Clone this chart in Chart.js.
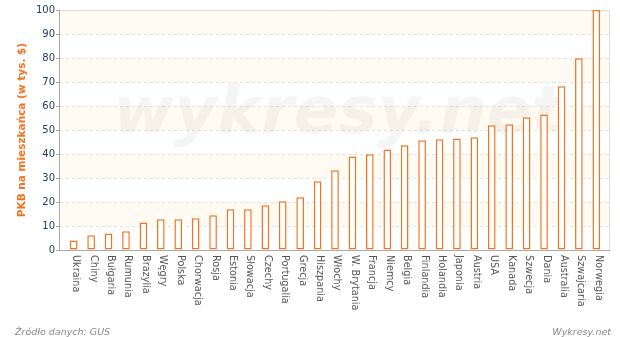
<!DOCTYPE html>
<html>
<head>
<meta charset="utf-8">
<script src="https://cdn.jsdelivr.net/npm/chart.js@4"></script>
<style>
  body { margin: 0; background: #fff; }
  #wrap { position: relative; width: 620px; height: 337px; }
  .note { position: absolute; font: italic 9.5px "DejaVu Sans", sans-serif; color: #888; }
</style>
</head>
<body>
<div id="wrap">
  <canvas id="gdp" width="620" height="337"></canvas>
  <div class="note" style="left:15px; top:326px;">Źródło danych: GUS</div>
  <div class="note" style="right:9px; top:326px;">Wykresy.net</div>
</div>
<script>
const countries = ['Ukraina', 'Chiny', 'Bułgaria', 'Rumunia', 'Brazylia', 'Węgry', 'Polska', 'Chorwacja', 'Rosja',
  'Estonia', 'Słowacja', 'Czechy', 'Portugalia', 'Grecja', 'Hiszpania', 'Włochy', 'W. Brytania', 'Francja',
  'Niemcy', 'Belgia', 'Finlandia', 'Holandia', 'Japonia', 'Austria', 'USA', 'Kanada', 'Szwecja', 'Dania',
  'Australia', 'Szwajcaria', 'Norwegia'];
const gdp = [4.0, 6.1, 6.9, 7.8, 11.5, 12.8, 12.8, 13.2, 14.5, 17.0, 17.0, 18.6, 20.3, 22.0, 28.6, 33.2,
  39.0, 39.9, 41.9, 43.6, 45.7, 46.1, 46.5, 47.0, 52.0, 52.4, 55.3, 56.5, 68.2, 79.9, 100];
const yTicks = [0, 10, 20, 30, 40, 50, 60, 70, 80, 90, 100];

const orange = '#f47321';
const side = 5; // frame extends this far past the category scale

// bands, dashed grid, frame, y axis line and watermark
const backdrop = {
  id: 'backdrop',
  beforeDatasetsDraw(chart) {
    const { ctx, chartArea: a, scales: { y } } = chart;
    const L = a.left - side, R = a.right + side;
    ctx.save();
    for (let i = 0; i < yTicks.length - 1; i++) {
      if ((yTicks.length - 2 - i) % 2 === 0) {
        const top = y.getPixelForValue(yTicks[i + 1]);
        const bot = y.getPixelForValue(yTicks[i]);
        ctx.fillStyle = '#fffbf3';
        ctx.fillRect(L, top, R - L, bot - top);
      }
    }
    ctx.strokeStyle = '#e2e2e2';
    ctx.lineWidth = 1;
    ctx.setLineDash([3, 3]);
    yTicks.slice(1, -1).forEach(v => {
      const py = Math.round(y.getPixelForValue(v)) + 0.5;
      ctx.beginPath();
      ctx.moveTo(L, py);
      ctx.lineTo(R, py);
      ctx.stroke();
    });
    ctx.setLineDash([]);
    ctx.strokeStyle = '#dddddd';
    ctx.beginPath();
    ctx.moveTo(L, a.top + 0.5);
    ctx.lineTo(R - 0.5, a.top + 0.5);
    ctx.lineTo(R - 0.5, a.bottom);
    ctx.stroke();
    ctx.strokeStyle = '#aaaaaa';
    ctx.beginPath();
    ctx.moveTo(L - 0.5, a.top);
    ctx.lineTo(L - 0.5, a.bottom + 0.5);
    ctx.lineTo(R, a.bottom + 0.5);
    yTicks.forEach(v => {
      const py = Math.round(y.getPixelForValue(v)) + 0.5;
      ctx.moveTo(L - 4, py);
      ctx.lineTo(L, py);
    });
    ctx.stroke();
    ctx.font = 'italic bold 66px "DejaVu Sans", sans-serif';
    ctx.fillStyle = 'rgba(0,0,0,0.04)';
    ctx.textAlign = 'center';
    ctx.fillText('wykresy.net', (L + R) / 2 + 3, 133);
    ctx.restore();
  },
  afterDraw(chart) {
    const { ctx, chartArea: a, scales: { x } } = chart;
    ctx.save();
    ctx.font = '9.7px "DejaVu Sans", sans-serif';
    ctx.fillStyle = '#555555';
    ctx.textAlign = 'left';
    ctx.textBaseline = 'middle';
    countries.forEach((c, i) => {
      ctx.save();
      ctx.translate(x.getPixelForValue(i) + 2, a.bottom + 5);
      ctx.rotate(Math.PI / 2);
      ctx.fillText(c, 0, 0);
      ctx.restore();
    });
    ctx.restore();
  }
};

new Chart(document.getElementById('gdp'), {
  type: 'bar',
  data: {
    labels: countries,
    datasets: [{
      data: gdp,
      backgroundColor: '#ffffff',
      borderColor: orange,
      borderWidth: 1.5,
      borderSkipped: false,
      categoryPercentage: 1,
      barPercentage: 0.44
    }]
  },
  options: {
    responsive: false,
    animation: false,
    layout: { padding: { top: 0, right: 10 + side, left: 0, bottom: 0 } },
    plugins: { legend: { display: false }, tooltip: { enabled: false } },
    scales: {
      x: {
        grid: { display: false },
        border: { display: false },
        ticks: { display: false },
        afterFit(s) { s.height = 87; }
      },
      y: {
        min: 0,
        max: 100,
        afterBuildTicks(s) { s.ticks = yTicks.map(v => ({ value: v })); },
        grid: { display: true, drawOnChartArea: false, drawTicks: true, tickLength: 6, color: 'rgba(0,0,0,0)' },
        border: { display: false },
        ticks: {
          color: '#1d3d6b',
          font: { family: 'DejaVu Sans', size: 10 },
          padding: 4
        },
        title: {
          display: true,
          text: 'PKB na mieszkańca (w tys. $)',
          color: orange,
          font: { family: 'DejaVu Sans', size: 10.5, weight: 'bold' },
          padding: { top: 16, bottom: 4 }
        },
        afterFit(s) { s.width = 60 + side; }
      }
    }
  },
  plugins: [backdrop]
});
</script>
</body>
</html>
